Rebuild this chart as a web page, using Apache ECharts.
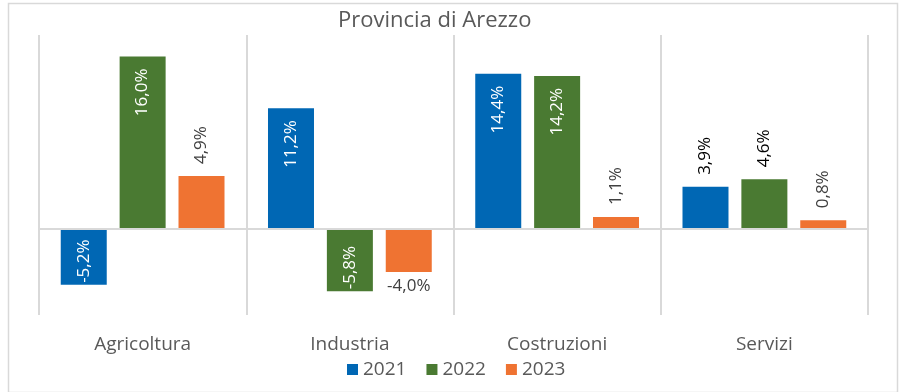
<!DOCTYPE html>
<html>
<head>
<meta charset="utf-8">
<script src="https://cdn.jsdelivr.net/npm/echarts@6/dist/echarts.min.js"></script>
<style>
html,body{margin:0;padding:0;background:#fff;}
#chart{width:899px;height:392px;}
</style>
</head>
<body>
<div id="chart"></div>
<script>
const titleText = 'Provincia di Arezzo';
const categories = ['Agricoltura', 'Industria', 'Costruzioni', 'Servizi'];
const seriesNames = ['2021', '2022', '2023'];
const values2021 = [-5.2, 11.2, 14.4, 3.9];
const values2022 = [16.0, -5.8, 14.2, 4.6];
const values2023 = [4.9, -4.0, 1.1, 0.8];
const colors = ['#0067B4', '#4A7A32', '#EF7332'];
const outsideLabelColors = ['#000000', '#000000', '#404040'];

const FONT = 'Open Sans';
const fmt = v => v.toFixed(1).replace('.', ',') + '%';

function labelFor(v, idx) {
  const inside = Math.abs(v) >= 5;
  if (inside) {
    return v >= 0
      ? {position: 'insideTop', distance: 12, rotate: 90, align: 'right', verticalAlign: 'middle', color: '#ffffff'}
      : {position: 'insideBottom', distance: 2, rotate: 90, align: 'left', verticalAlign: 'middle', color: '#ffffff'};
  }
  const c = outsideLabelColors[idx];
  return v >= 0
    ? {position: 'top', distance: 12, rotate: 90, align: 'left', verticalAlign: 'middle', color: c}
    : {position: 'bottom', distance: 6, rotate: 0, align: 'center', verticalAlign: 'top', color: c};
}

function buildSeries(name, vals, idx) {
  const s = {
    name: name,
    type: 'bar',
    barWidth: 46,
    barGap: '28%',
    itemStyle: {color: colors[idx]},
    label: {show: true, fontFamily: FONT, fontSize: 17, formatter: p => fmt(p.value)},
    data: vals.map(v => ({value: v, label: labelFor(v, idx)}))
  };
  if (idx === 0) {
    s.markLine = {
      silent: true, symbol: 'none', label: {show: false},
      lineStyle: {color: '#d9d9d9', width: 2, type: 'solid'},
      data: [{yAxis: 0}]
    };
  }
  return s;
}

const chart = echarts.init(document.getElementById('chart'));
chart.setOption({
  animation: false,
  textStyle: {fontFamily: FONT},
  title: {
    text: titleText, left: 338, top: 10, padding: 0,
    textStyle: {fontFamily: FONT, fontSize: 22, fontWeight: 'normal', color: '#595959'}
  },
  graphic: [{
    type: 'rect', left: 6, top: 1, silent: true,
    shape: {width: 889, height: 389},
    style: {fill: 'none', stroke: '#d9d9d9', lineWidth: 1.5}
  }],
  legend: {
    data: seriesNames, top: 360, left: 347, padding: 0,
    itemWidth: 11, itemHeight: 11, itemGap: 20, icon: 'rect',
    textStyle: {fontFamily: FONT, fontSize: 19, color: '#595959', padding: [0, 0, 0, 0]}
  },
  grid: {left: 39, right: 31, top: 35, bottom: 77, containLabel: false},
  xAxis: {
    type: 'category', data: categories,
    axisLine: {show: false, onZero: false},
    axisTick: {show: false},
    axisLabel: {margin: 20, fontFamily: FONT, fontSize: 19, color: '#595959'},
    splitLine: {show: true, lineStyle: {color: '#d9d9d9', width: 2}}
  },
  yAxis: {
    type: 'value', min: -8, max: 18, interval: 2,
    axisLine: {show: false}, axisTick: {show: false}, axisLabel: {show: false},
    splitLine: {show: false}
  },
  series: [
    buildSeries(seriesNames[0], values2021, 0),
    buildSeries(seriesNames[1], values2022, 1),
    buildSeries(seriesNames[2], values2023, 2)
  ]
});
</script>
</body>
</html>
